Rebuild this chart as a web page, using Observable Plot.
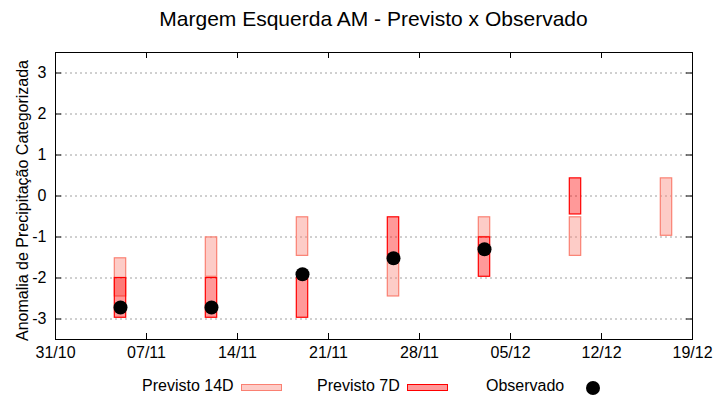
<!DOCTYPE html>
<html>
<head>
<meta charset="utf-8">
<script src="https://cdn.jsdelivr.net/npm/d3@7"></script>
<script src="https://cdn.jsdelivr.net/npm/@observablehq/plot@0.6"></script>
<style>
  body { margin: 0; background: #fff; font-family: "Liberation Sans", Arial, sans-serif; color: #000; }
  #wrap { width: 720px; height: 400px; position: relative; overflow: hidden; }
  #title { height: 40px; line-height: 38px; font-size: 21px; text-align: center; padding-left: 27px; box-sizing: border-box; }
  #chart { height: 330px; }
  #legend { position: relative; height: 30px; }
  .lt { position: absolute; top: 7px; height: 18px; line-height: 18px; font-size: 16px; white-space: nowrap; }
  .sw { position: absolute; top: 14px; width: 41px; height: 7px; box-sizing: border-box; }
  .dt { position: absolute; top: 11px; width: 14px; height: 14px; border-radius: 50%; background: #000; }
</style>
</head>
<body>
<div id="wrap">
  <div id="title"></div>
  <div id="chart"></div>
  <div id="legend"></div>
</div>
<script>
// ---- data ----
const titleText = "Margem Esquerda AM - Previsto x Observado";
const yLabel = "Anomalia de Precipitação Categorizada";
const dates = ["2019-11-05", "2019-11-12", "2019-11-19", "2019-11-26", "2019-12-03", "2019-12-10", "2019-12-17"];
const prev14Low  = [-2.45, -1.97, -1.46, -2.45, -1.00, -1.46, -0.97];
const prev14High = [-1.52, -1.01, -0.52, -1.52, -0.52, -0.52,  0.43];
const prev7Low   = [-2.97, -2.97, -2.97, -1.50, -1.97, -0.45, null];
const prev7High  = [-2.00, -2.00, -2.00, -0.52, -1.01,  0.43, null];
const observed   = [-2.72, -2.72, -1.91, -1.52, -1.30, null, null];
const xTicks = ["2019-10-31", "2019-11-07", "2019-11-14", "2019-11-21", "2019-11-28", "2019-12-05", "2019-12-12", "2019-12-19"];
const yTicks = [-3, -2, -1, 0, 1, 2, 3];
const seriesNames = ["Previsto 14D", "Previsto 7D", "Observado"];
const seriesColors = ["salmon", "red", "black"];

// ---- build ----
const parse = d3.utcParse("%Y-%m-%d");
const xTickDates = xTicks.map(parse);
const rows14 = dates.map((d, i) => ({date: parse(d), lo: prev14Low[i], hi: prev14High[i]}));
const rows7 = dates.map((d, i) => ({date: parse(d), lo: prev7Low[i], hi: prev7High[i]})).filter(d => d.lo != null);
const rowsObs = dates.map((d, i) => ({date: parse(d), v: observed[i]})).filter(d => d.v != null);

const W = 720, H = 330, mL = 55, mR = 28, mT = 12, mB = 31;
const pw = W - mL - mR, ph = H - mT - mB, tk = 6;
const halfW = 10.5; // hours
const left = d => d3.utcMinute.offset(d.date, -halfW * 60);
const right = d => d3.utcMinute.offset(d.date, halfW * 60);

document.getElementById("title").textContent = titleText;

const chart = Plot.plot({
  width: W, height: H,
  marginLeft: mL, marginRight: mR, marginTop: mT, marginBottom: mB,
  style: {fontFamily: "'Liberation Sans', Arial, sans-serif", fontSize: "16px", color: "#000", background: "#fff", overflow: "visible"},
  x: {type: "utc", domain: [xTickDates[0], xTickDates[xTickDates.length - 1]]},
  y: {domain: [-3.5, 3.5]},
  marks: [
    Plot.ruleY(yTicks, {stroke: "#a0a0a0", strokeWidth: 1, strokeDasharray: "2,3"}),
    Plot.rect(rows14, {x1: left, x2: right, y1: "lo", y2: "hi", fill: seriesColors[0], fillOpacity: 0.4, stroke: seriesColors[0], strokeWidth: 1.2}),
    Plot.rect(rows7, {x1: left, x2: right, y1: "lo", y2: "hi", fill: seriesColors[1], fillOpacity: 0.4, stroke: seriesColors[1], strokeWidth: 1.2}),
    Plot.dot(rowsObs, {x: "date", y: "v", r: 7, fill: seriesColors[2], stroke: "none"}),
    Plot.frame({stroke: "#000", strokeWidth: 1}),
    Plot.tickX(xTickDates, {x: d => d, stroke: "#000", insetTop: ph - tk}),
    Plot.tickX(xTickDates, {x: d => d, stroke: "#000", insetBottom: ph - tk}),
    Plot.tickY(yTicks, {y: d => d, stroke: "#000", insetRight: pw - tk}),
    Plot.tickY(yTicks, {y: d => d, stroke: "#000", insetLeft: pw - tk}),
    Plot.axisX({ticks: xTickDates, tickFormat: d3.utcFormat("%d/%m"), tickSize: 0, tickPadding: 7, label: null, fontSize: 16}),
    Plot.axisY({ticks: yTicks, tickFormat: d => String(d), tickSize: 0, tickPadding: 9, fontSize: 16, label: null}),
    Plot.text([yLabel], {text: d => d, frameAnchor: "left", textAnchor: "middle", lineAnchor: "middle", rotate: -90, dx: -33, dy: 4.5, fontSize: 16, fill: "#000"})
  ]
});
document.getElementById("chart").appendChild(chart);

// ---- legend ----
const legend = document.getElementById("legend");
const textLeft = [142, 317, 486];
const symLeft = [241, 407, 586];
seriesNames.forEach((name, i) => {
  const t = document.createElement("div");
  t.className = "lt"; t.style.left = textLeft[i] + "px"; t.textContent = name;
  legend.appendChild(t);
  const s = document.createElement("div");
  s.style.left = symLeft[i] + "px";
  if (i < 2) {
    s.className = "sw";
    s.style.border = "1px solid " + seriesColors[i];
    s.style.background = d3.color(seriesColors[i]).copy({opacity: 0.4}).toString();
  } else {
    s.className = "dt";
  }
  legend.appendChild(s);
});
</script>
</body>
</html>
